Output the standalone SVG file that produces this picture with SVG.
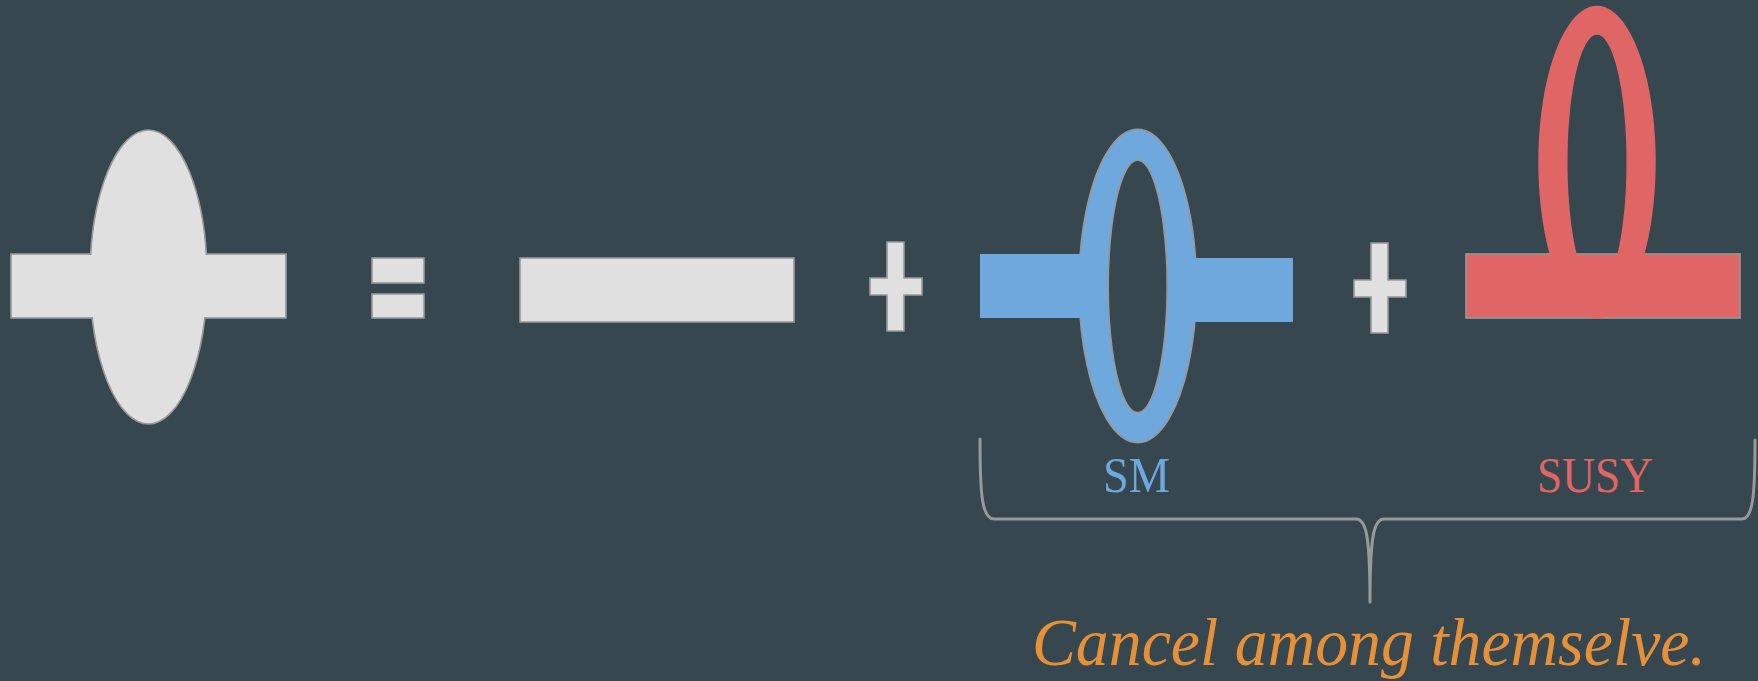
<svg xmlns="http://www.w3.org/2000/svg" width="1758" height="681" viewBox="0 0 1758 681">
<style>
.gray{fill:#e0e0e0;stroke:#999999;stroke-width:1.6}
.grayf{fill:#e0e0e0;stroke:none}
.blue{fill:#6fa8dc;stroke:none}
.ringb{fill:#6fa8dc;fill-rule:evenodd;stroke:#999999;stroke-width:1.6}
.red{fill:#e06666;stroke:#999999;stroke-width:1.6}
.ringr{fill:#e06666;fill-rule:evenodd;stroke:none}
.lbl{font-family:"Liberation Serif","Times New Roman",serif;font-size:50px}
.brace{fill:none;stroke:#999999;stroke-width:3;stroke-linecap:round;stroke-linejoin:round}
</style>
<rect width="1758" height="681" fill="#37474f"/>

<g id="full-propagator">
  <rect class="gray" x="11" y="254" width="275" height="64"/>
  <ellipse class="gray" cx="148.5" cy="277" rx="58.5" ry="147"/>
  <rect class="grayf" x="12" y="255" width="273" height="62"/>
</g>

<g id="equals">
  <rect class="gray" x="372" y="258" width="52" height="25"/>
  <rect class="gray" x="372" y="294" width="52" height="24"/>
</g>

<g id="bare-propagator">
  <rect class="gray" x="520" y="258" width="274" height="64"/>
</g>

<g id="plus1">
  <polygon class="gray" points="887,242 904,242 904,278 922,278 922,295 904,295 904,331 887,331 887,295 870,295 870,278 887,278"/>
</g>

<g id="sm-loop">
  <path class="ringb" d="M1137.7,129.3 a58.7,156.7 0 1,0 0.01,0 Z M1137.7,160 a29.5,126.3 0 1,0 0.01,0 Z"/>
  <rect class="blue" x="980" y="254" width="115" height="64"/>
  <rect class="blue" x="1181" y="258" width="112" height="64"/>
</g>

<g id="plus2">
  <polygon class="gray" points="1371,243 1388,243 1388,280 1406,280 1406,297 1388,297 1388,333 1371,333 1371,297 1354,297 1354,280 1371,280"/>
</g>

<g id="susy-loop">
  <rect class="red" x="1466" y="254" width="274" height="64"/>
  <path class="ringr" d="M1597,5.7 a58.7,156.3 0 1,0 0.01,0 Z M1597,34.7 a29.5,127.3 0 1,0 0.01,0 Z"/>
</g>

<g id="connectors">
  <path class="brace" d="M980,439 C980,495 982,519 994,519 L1356,519 C1366,519 1370,535 1370,602 C1370,535 1374,519 1384,519 L1742,519 C1753,519 1755,495 1755,440"/>
</g>

<g id="labels">
  <text class="lbl" x="1103" y="492" fill="#6fa8dc" textLength="67" lengthAdjust="spacingAndGlyphs">SM</text>
  <text class="lbl" x="1537" y="492" fill="#e06666" textLength="116" lengthAdjust="spacingAndGlyphs">SUSY</text>
  <text x="1032" y="665" fill="#e69138" font-family="'Liberation Serif','Times New Roman',serif" font-style="italic" font-size="68" textLength="674" lengthAdjust="spacingAndGlyphs">Cancel among themselve.</text>
</g>
</svg>
